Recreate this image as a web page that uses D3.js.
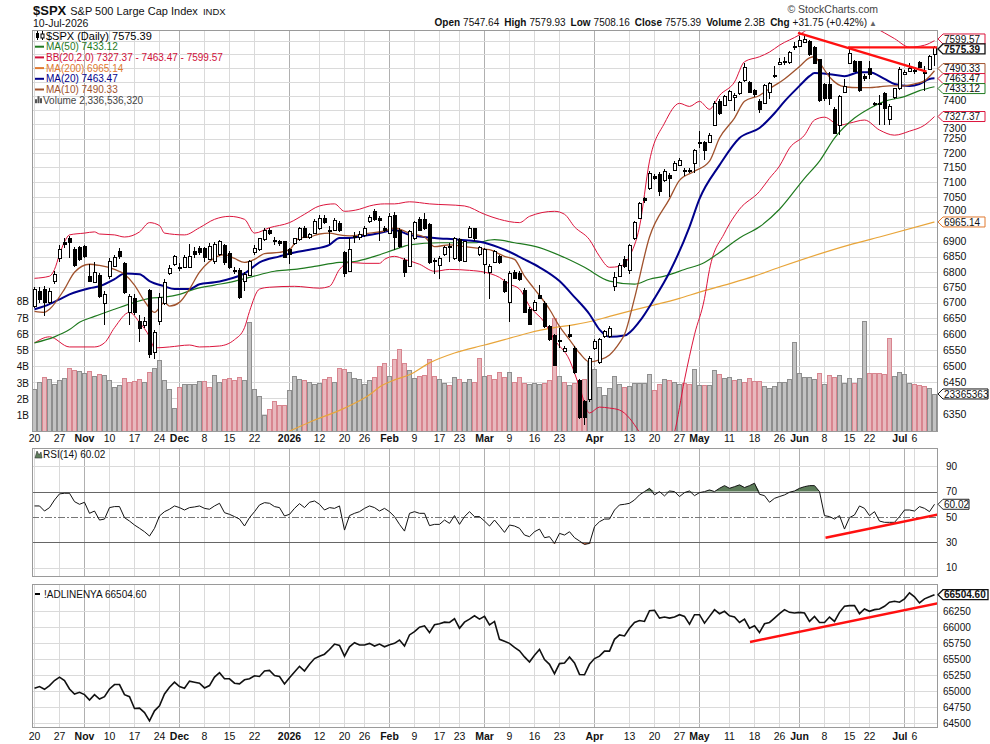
<!DOCTYPE html>
<html><head><meta charset="utf-8">
<script src="https://cdn.jsdelivr.net/npm/d3@7"></script>
<style>
body{margin:0;background:#fff;}
svg text{font-family:"Liberation Sans",Arial,sans-serif;fill:#111;}
</style></head><body>
<svg id="c" width="990" height="744"></svg>
<script>
// ---------------- DATA ----------------
const open = [6688,6737,6744,6701,6770,6844,6896,6909,6873,6880, 6883,6786,6766,6789,6698,6786,6818,6867,6828,6669,
 6714,6640,6627,6741,6540,6640,6698,6796,6825,6815, 6815,6815,6867,6877,6877,6841,6834,6857,6886,6860,
 6802,6805,6770,6789,6864,6873,6906,6935,6903,6899, 6899,6873,6893,6906,6945,6912,6928,6942,6977,6935,
 6938,6960,6864,6802,6912,6912,6919,6967,7001,6977, 6945,6928,6988,6938,6838,6818,6909,6974,6974,6956,
 6834,6821,6857,6883,6844,6906,6834,6915,6942,6857, 6825,6799,6831,6851,6770,6701,6799,6796,6741,6679,
 6675,6724,6698,6624,6595,6578,6546,6598,6555,6453, 6388,6394,6555,6509,6591,6591,6751,6786,6841,6805,
 6909,6977,7043,7078,7120,7127,7106,7123,7141,7158, 7137,7141,7165,7236,7235,7238,7297,7381,7367,7384,
 7395,7409,7454,7447,7419,7381,7374,7412,7473,7513, 7520,7520,7579,7579,7593,7597,7576,7530,7440,7440,
 7353,7297,7412,7516,7523,7523,7471,7499,7370,7372, 7409,7318,7395,7426,7478,7489,7490,7520,7485,7496, 7547.64];
const high = [6751,6751,6754,6747,6802,6889,6912,6919,6883,6886, 6889,6825,6831,6795,6737,6844,6857,6877,6834,6727,
 6727,6662,6653,6744,6614,6731,6776,6821,6857,6828, 6857,6893,6883,6886,6883,6896,6899,6906,6893,6867,
 6815,6812,6799,6838,6889,6912,6945,6945,6916,6906, 6903,6880,6912,6948,6951,6928,6974,6988,6988,6953,
 6977,6967,6867,6912,6932,6935,6951,6988,7008,6984, 6953,6994,6998,6945,6844,6938,6970,6981,6994,6963,
 6844,6851,6886,6896,6916,6912,6903,6953,6945,6886, 6877,6825,6873,6857,6776,6802,6805,6802,6747,6685,
 6708,6757,6705,6630,6601,6620,6562,6630,6562,6460, 6394,6531,6585,6588,6614,6624,6799,6828,6851,6893,
 6970,7033,7050,7137,7127,7134,7144,7130,7172,7182, 7148,7148,7214,7276,7242,7270,7381,7388,7405,7423,
 7409,7454,7520,7454,7426,7388,7444,7451,7506,7537, 7541,7562,7593,7617,7617,7603,7579,7534,7447,7485,
 7360,7402,7461,7572,7530,7527,7478,7527,7380,7402, 7416,7370,7430,7503,7492,7520,7499,7527,7506,7548, 7579.93];
const low = [6682,6698,6656,6695,6760,6834,6880,6847,6815,6835, 6844,6766,6763,6714,6627,6776,6815,6841,6727,6627,
 6662,6575,6620,6525,6521,6630,6692,6789,6818,6802, 6812,6812,6847,6857,6834,6838,6825,6851,6821,6809,
 6792,6711,6737,6786,6857,6870,6903,6922,6889,6886, 6844,6825,6889,6903,6912,6909,6925,6938,6960,6893,
 6935,6932,6783,6799,6896,6906,6916,6963,6970,6903, 6932,6925,6873,6877,6783,6815,6906,6935,6938,6825,
 6792,6776,6851,6834,6838,6834,6831,6912,6903,6851, 6792,6711,6828,6825,6731,6637,6776,6770,6666,6627,
 6672,6711,6620,6578,6498,6555,6543,6588,6475,6335, 6316,6388,6549,6505,6588,6588,6737,6783,6812,6792,
 6906,6974,7029,7074,7106,7054,7102,7050,7137,7155, 7120,7130,7130,7217,7175,7235,7294,7332,7363,7381,
 7346,7405,7451,7409,7398,7339,7370,7391,7464,7510, 7510,7516,7565,7576,7590,7544,7513,7377,7384,7367,
 7266,7262,7409,7513,7485,7416,7454,7461,7365,7297, 7297,7297,7391,7423,7475,7485,7480,7499,7419,7492, 7508.16];
const close = [6744,6711,6701,6737,6792,6873,6889,6896,6821,6841, 6851,6770,6799,6721,6727,6834,6847,6851,6734,6721,
 6669,6617,6640,6534,6604,6718,6766,6812,6851,6812, 6847,6851,6857,6864,6847,6883,6889,6899,6831,6815,
 6805,6718,6792,6834,6877,6909,6938,6928,6901,6893, 6847,6857,6909,6945,6915,6922,6967,6977,6963,6932,
 6970,6938,6796,6873,6916,6922,6945,6981,6974,6970, 6938,6984,6915,6883,6799,6932,6963,6938,6942,6831,
 6838,6844,6880,6880,6909,6838,6899,6945,6909,6880, 6873,6818,6867,6831,6737,6796,6780,6776,6669,6630,
 6701,6714,6624,6582,6502,6575,6555,6591,6478,6341, 6341,6524,6575,6582,6608,6617,6783,6821,6818,6886,
 6963,7026,7036,7130,7113,7068,7137,7113,7165,7175, 7141,7137,7210,7235,7207,7262,7374,7339,7398,7416,
 7402,7447,7503,7412,7405,7353,7436,7444,7471,7520, 7523,7558,7580,7600,7603,7548,7516,7384,7391,7391,
 7269,7398,7433,7551,7489,7419,7461,7478,7372,7370, 7356,7363,7426,7496,7485,7499,7488,7503,7483,7543.64, 7575.39];
// volume in billions of shares
const volume = [2.64,3.09,3.39,3.25,2.94,3.21,3.31,3.93,3.80,3.76, 3.64,3.76,3.45,3.56,3.50,3.19,2.78,2.88,3.31,3.09,
 3.15,3.25,3.09,3.70,3.93,4.42,3.21,2.64,1.49,2.78, 2.94,2.94,2.94,3.15,3.15,2.78,3.50,3.09,3.25,3.29,
 3.21,3.35,3.21,6.77,2.64,2.23,1.04,1.41,1.92,1.66, 1.66,2.58,3.45,3.25,3.21,3.09,2.94,3.00,3.25,3.35,
 3.09,3.96,3.86,3.70,3.29,3.25,2.94,3.21,3.35,4.07, 4.23,3.45,4.48,5.09,4.21,3.80,3.31,3.45,3.52,4.48,
 3.45,3.25,3.00,2.90,3.35,3.25,3.10,3.25,3.10,4.54, 3.45,3.52,3.25,3.66,3.37,3.66,3.05,3.37,3.00,2.95,
 3.00,2.95,2.98,3.19,7.00,3.45,3.09,2.90,3.04,3.19, 3.25,4.37,3.86,2.74,2.27,2.70,3.45,2.94,2.74,2.84,
 2.98,2.98,3.00,3.56,2.60,2.94,3.25,3.21,3.10,2.94, 3.04,2.94,3.86,2.88,2.88,2.88,3.82,3.56,3.31,3.39,
 3.19,3.25,3.08,3.31,3.15,3.15,2.84,2.68,2.84,3.08, 3.08,3.25,5.50,3.62,3.39,3.39,3.25,3.62,2.94,3.49,
 3.41,3.49,2.99,3.31,3.04,3.31,6.80,3.60,3.60,3.60, 3.56,5.80,3.45,3.66,3.56,3.04,2.94,2.90,2.84,2.68, 2.3365];
// 1 = volume bar drawn red (down day)
const volDown = [0,0,1,0,0,0,0,1,1,0, 0,1,0,1,0,0,0,0,1,1, 1,1,0,1,0,0,0,0,0,1, 0,0,0,0,1,1,0,0,1,1,
 1,1,0,0,0,0,0,1,1,1, 1,0,0,0,1,0,0,0,1,1, 0,1,1,0,0,0,0,0,1,1, 1,0,1,1,1,0,0,1,1,1,
 1,0,0,1,0,1,0,0,1,1, 0,1,1,1,1,0,1,1,1,0, 0,0,1,1,1,0,1,0,1,1, 1,0,0,0,0,0,0,0,1,0,
 0,0,0,0,1,1,0,1,0,0, 1,1,0,0,1,0,0,1,0,0, 1,0,1,1,1,1,0,0,0,0, 0,0,0,0,0,0,0,1,0,1,
 1,0,0,0,1,0,0,1,1,1, 1,1,0,0,0,0,1,1,1,0, 0];
// overlays: [bar index, value]
const ma10 = [[0,6672],[2,6669],[3,6679],[6,6744],[8,6799],[11,6825],[13,6821],[16,6808],[18,6792],[20,6757],[22,6705],[24,6669],[26,6701],[27,6689],[29,6701],[31,6744],[33,6799],[35,6834],[38,6857],[40,6844],[42,6831],[44,6841],[46,6860],[49,6864],[51,6873],[53,6912],[55,6915],[57,6925],[59,6928],[61,6922],[63,6919],[65,6922],[67,6928],[70,6935],[72,6945],[75,6928],[78,6915],[80,6883],[83,6889],[86,6883],[89,6877],[91,6873],[94,6851],[96,6841],[98,6786],[100,6744],[103,6679],[105,6624],[107,6582],[109,6540],[111,6512],[113,6518],[115,6534],[117,6572],[118,6598],[120,6714],[123,6915],[127,7043],[129,7106],[132,7137],[135,7172],[137,7252],[140,7322],[142,7381],[145,7402],[147,7426],[150,7461],[153,7506],[155,7537],[156,7541],[157,7520],[159,7468],[162,7433],[165,7430],[167,7430],[169,7433],[171,7436],[174,7436],[176,7443],[178,7454],[180,7490.33]];
const ma20 = [[0,6679],[2,6689],[5,6711],[7,6727],[11,6747],[13,6753],[16,6776],[18,6795],[21,6792],[23,6770],[26,6753],[28,6744],[31,6744],[33,6760],[36,6766],[38,6773],[42,6795],[45,6831],[49,6851],[52,6864],[55,6873],[59,6889],[61,6912],[63,6912],[66,6919],[69,6928],[72,6938],[75,6922],[80,6912],[85,6906],[90,6896],[94,6873],[98,6841],[101,6815],[105,6770],[108,6718],[111,6663],[113,6614],[115,6591],[118,6595],[121,6640],[124,6714],[127,6799],[131,6949],[133,7043],[137,7158],[141,7252],[145,7287],[148,7339],[150,7381],[153,7436],[155,7471],[156,7482],[159,7478],[162,7471],[165,7485],[167,7485],[170,7461],[172,7443],[175,7436],[177,7443],[179,7461],[180,7463.47]];
const ma50 = [[0,6572],[4,6591],[7,6614],[9,6637],[12,6656],[16,6679],[20,6701],[23,6714],[26,6718],[29,6727],[32,6744],[36,6757],[39,6766],[43,6782],[48,6802],[52,6808],[56,6818],[61,6831],[64,6834],[68,6851],[72,6873],[75,6889],[81,6896],[88,6896],[92,6906],[96,6896],[101,6880],[106,6847],[110,6815],[115,6770],[120,6760],[123,6776],[126,6786],[130,6808],[134,6831],[137,6864],[141,6912],[145,6949],[149,7008],[154,7113],[157,7172],[160,7252],[164,7322],[167,7356],[170,7381],[174,7398],[177,7419],[180,7433.12]];
const ma200 = [[50,6292],[55,6326],[62,6369],[67,6410],[69,6434],[72,6456],[75,6472],[79,6509],[84,6540],[90,6565],[94,6582],[99,6604],[104,6620],[108,6630],[112,6643],[115,6656],[122,6685],[129,6714],[133,6734],[138,6757],[144,6786],[149,6815],[163,6889],[169,6915],[180,6965.14]];
const bbUpper = [[0,6779],[3,6786],[4,6808],[5,6857],[6,6899],[7,6922],[10,6928],[12,6932],[13,6925],[16,6922],[18,6915],[21,6932],[23,6963],[25,6953],[26,6928],[30,6922],[33,6946],[36,6974],[39,6984],[42,6974],[44,6928],[47,6946],[51,6963],[54,6991],[57,7019],[60,7026],[62,7001],[65,7008],[67,7019],[70,7026],[72,7026],[75,7033],[79,7026],[86,7019],[90,6991],[93,6974],[97,6963],[99,6984],[104,7001],[106,6991],[108,6949],[111,6906],[113,6851],[115,6815],[117,6818],[119,6851],[121,6949],[123,7172],[126,7304],[129,7374],[131,7363],[133,7381],[135,7353],[137,7402],[140,7450],[142,7523],[145,7541],[147,7558],[149,7583],[153,7621],[155,7645],[159,7663],[163,7670],[167,7656],[170,7628],[172,7607],[175,7576],[178,7583],[180,7599.57]];
const bbLower = [[0,6572],[3,6591],[7,6559],[12,6559],[14,6572],[16,6620],[19,6669],[21,6637],[23,6591],[24,6556],[27,6559],[31,6565],[33,6559],[37,6562],[40,6582],[42,6620],[43,6672],[45,6744],[47,6750],[52,6753],[57,6747],[59,6753],[61,6808],[63,6831],[66,6828],[69,6828],[70,6841],[72,6851],[74,6841],[77,6825],[80,6802],[83,6808],[87,6805],[90,6799],[93,6782],[95,6760],[97,6744],[99,6689],[102,6637],[104,6582],[107,6518],[109,6434],[111,6354],[113,6372],[115,6369],[117,6363],[121,6295],[123,6239],[125,6208],[128,6295],[130,6456],[132,6598],[134,6714],[135,6808],[138,6928],[141,7008],[145,7068],[147,7113],[149,7155],[151,7217],[154,7262],[156,7315],[158,7325],[161,7297],[163,7304],[166,7315],[169,7280],[172,7262],[175,7276],[178,7297],[180,7327.37]];
const rsi = [58.7,58.7,54.7,57.4,63.4,68.2,68.7,68.7,62.1,60,61.6, 52.9,54.7,47.6,48.4,57.4,58.2,58.2,49.5,46.8,43.7,41.1, 38.4,
 35,41.1,50.8,54.2,56.1,58.7,57.4,55.5,57.4,57.9,58.7, 56.8,56.1,58.7,60.8,53.4,52.1,50.3,48.4,42.9,49.5,54.2,
 59.5,61.3,60.8,58.2,57.4,50.8,52.1,56.8,60.5,57.4, 61.6,62.6,60,55.5,57.4,56.8,58.7,39.7,51.1,52.9,54.2,56.8,58.7,
 57.4,54.7,56.8,54.2,50.3,44.2,38.9,52.9,54.2,52.9,52.9, 43.2,44.2,44.2,47.6,45,51.1,44.2,50.3,54.2,50.3,50.3,
 46.8,42.9,47.6,42.9,37.9,43.7,42.9,41.1,35.8,34.5,38.4,40.5, 33.7,34.5,29.2,37.1,35.8,38.4,33.7,31.1,28.4,29.2,42.4,
 46.3,48.4,48.4,55.5,59.5,60,60.8,63.4,67.4,70,72.6, 67.4,70,66.6,70.5,70,66.1,69.2,70.5,66.8,69.2,70,71.3,
 70,72.6,74.7,72.6,73.9,75.3,73.2,74.7,76.6,67.9,66.8, 61.6,64.7,66.1,67.4,69.5,70.5,72.6,73.9,74.7,74.7,70,
 51.1,50.3,48.4,51.1,40.5,49.5,51.6,58.7,56.8,51.1,54.2, 46.8,45.8,45.8,45.8,50.3,55.5,55.5,54.7,58.2,56.8,54.2, 60.02];
const adLine = [65043,65069,65027,65085,65164,65217,65164,65032,64953,64980, 64943,64858,64943,64874,64911,65032,65101,65101,64943,64911,
 64727,64732,64663,64532,64690,64769,64953,65059,65138,65069, 65043,65154,65138,65122,65048,65085,65217,65285,65191,65191,
 65122,65111,65175,65191,65238,65227,65312,65322,65243,65227, 65111,65206,65296,65386,65312,65417,65507,65544,65575,65649,
 65733,65712,65544,65691,65754,65718,65718,65744,65702,65733, 65691,65723,65744,65797,65702,65876,65928,65997,66018,65913,
 66034,66050,66076,66071,66129,65981,66076,66123,66176,66123, 66166,66034,66087,65807,65776,65744,65681,65628,65533,65454,
 65559,65649,65491,65417,65270,65428,65438,65533,65438,65259, 65254,65417,65507,65544,65623,65623,65807,65876,65860,65981,
 66071,66102,66087,66255,66261,66139,66155,66139,66155,66192, 66166,66044,66192,66192,66060,66166,66271,66208,66245,66176,
 66155,66071,66123,65981,66018,65913,66050,66071,66139,66208, 66271,66229,66218,66229,66218,66087,66166,66071,66071,66155,
 66087,66229,66324,66334,66334,66208,66282,66245,66271,66282, 66324,66387,66403,66387,66440,66535,66471,66376,66440,66471, 66504.6];
// hand-drawn red trend lines: [fromIndex, fromValue, toIndex, toValue]
const priceTrends = [[152.7,7628,178.4,7487],[162.7,7575,180.5,7575]];
const rsiTrend = [158.2,33.7,180.9,52.1];
const adTrend = [143.1,65766,180.9,66375];
// x-axis tick labels: [bar index, label, isMonth]
const xTicks = [[0,'20'],[5,'27'],[10,'Nov',1],[15,'10'],[20,'17'],[25,'24'],[29,'Dec',1],[34,'8'],[39,'15'],[44,'22'],
 [51,'2026',1],[57,'12'],[62,'20'],[66,'26'],[71,'Feb',1],[76,'9'],[81,'17'],[85,'23'],[90,'Mar',1],[95,'9'],[100,'16'],[105,'23'],
 [112,'Apr',1],[119,'13'],[124,'20'],[129,'27'],[133,'May',1],[139,'11'],[144,'18'],[149,'26'],[153,'Jun',1],[158,'8'],[163,'15'],[167,'22'],[174,'Jul',1],[176,'6']];
const priceTicks = d3.range(6350, 7601, 50);
const volTicks = [1,2,3,4,5,6,7,8];
const rsiTicks = [10,30,50,70,90];
const adTicks = d3.range(64500, 66251, 250);
// last-value tags of the price panel
const priceTags = [
  {v:7599.57, t:'7599.57', c:'bb'}, {v:7575.39, t:'7575.39', c:'close', bold:1},
  {v:7490.33, t:'7490.33', c:'ma10'}, {v:7463.47, t:'7463.47', c:'bb'}, {v:7433.12, t:'7433.12', c:'ma50'},
  {v:7327.37, t:'7327.37', c:'bb'}, {v:6965.14, t:'6965.14', c:'ma200t'}
];

// ---------------- LAYOUT ----------------
const L=32, R=938, pTop=30, pBot=432, rTop=448, rBot=577, aTop=584, aBot=728;
const N = close.length;
const svg = d3.select('#c');
svg.append('rect').attr('width',990).attr('height',744).attr('fill','#fff');
const x = d3.scaleBand().domain(d3.range(N)).range([L, L+5*N]);
const xc = i => x(i) + x.bandwidth()/2;
const xl = d3.scaleLinear().domain([0, N-1]).range([xc(0), xc(N-1)]);
const y = d3.scaleLog().domain([6296.2, 7638.6]).range([pBot, pTop]);
const yv = d3.scaleLinear().domain([0, 24.7]).range([pBot, pTop]);
const yr = d3.scaleLinear().domain([0, 100]).range([580.5, 453.5]);
const ya = d3.scaleLinear().domain([64500, 66750]).range([723, 579]);

const defs = svg.append('defs');
function clip(id,y0,y1){defs.append('clipPath').attr('id',id).append('rect').attr('x',L).attr('y',y0).attr('width',R-L).attr('height',y1-y0);}
clip('cp',pTop,pBot); clip('cr',rTop,rBot); clip('ca',aTop,aBot);

const C = {ma50:'#1f7a1f', bb:'#dc143c', ma200:'#e8a53a', ma200t:'#e07a30', ma20:'#00008b', ma10:'#a0522d', close:'#111', grid:'#dadada', mgrid:'#b0b0b0'};

// ---------- gridlines ----------
const grid = svg.append('g').attr('shape-rendering','crispEdges');
[[pTop,pBot],[rTop,rBot],[aTop,aBot]].forEach(([t,b])=>{
  xTicks.forEach(d=>{
    grid.append('line').attr('x1',Math.floor(xc(d[0]))+.5).attr('x2',Math.floor(xc(d[0]))+.5).attr('y1',t).attr('y2',b)
      .attr('stroke', d[2]? C.mgrid : C.grid);
  });
});
priceTicks.forEach(v=>{const yy=Math.round(y(v))+.5; grid.append('line').attr('x1',L).attr('x2',R).attr('y1',yy).attr('y2',yy).attr('stroke',C.grid);});
adTicks.forEach(v=>{const yy=Math.round(ya(v))+.5; grid.append('line').attr('x1',L).attr('x2',R).attr('y1',yy).attr('y2',yy).attr('stroke',C.grid);});
[10,90].forEach(v=>{const yy=Math.round(yr(v))+.5; grid.append('line').attr('x1',L).attr('x2',R).attr('y1',yy).attr('y2',yy).attr('stroke',C.grid);});

// ---------- volume ----------
const gv = svg.append('g').attr('clip-path','url(#cp)').attr('shape-rendering','crispEdges');
volume.forEach((v,i)=>{
  gv.append('rect').attr('x',x(i)+.5).attr('width',4).attr('y',Math.round(yv(v))+.5).attr('height',pBot-Math.round(yv(v))-.5)
    .attr('fill', volDown[i]? '#e8b8bd':'#c2c2c2').attr('stroke', volDown[i]? '#d8858f':'#8e8e8e').attr('stroke-width',1);
});

// ---------- overlays ----------
const gl = svg.append('g').attr('clip-path','url(#cp)').attr('fill','none');
const line = d3.line().x(d=>xc(d[0])).y(d=>y(d[1])).curve(d3.curveMonotoneX);
gl.append('path').attr('d',line(ma200)).attr('stroke',C.ma200).attr('stroke-width',1.2);
gl.append('path').attr('d',line(bbUpper)).attr('stroke',C.bb).attr('stroke-width',1);
gl.append('path').attr('d',line(bbLower)).attr('stroke',C.bb).attr('stroke-width',1);
gl.append('path').attr('d',line(ma50)).attr('stroke',C.ma50).attr('stroke-width',1.2);
gl.append('path').attr('d',line(ma20)).attr('stroke',C.ma20).attr('stroke-width',2);
gl.append('path').attr('d',line(ma10)).attr('stroke',C.ma10).attr('stroke-width',1.3);

// ---------- candles ----------
const gc = svg.append('g').attr('clip-path','url(#cp)').attr('shape-rendering','crispEdges');
close.forEach((c,i)=>{
  const o=open[i], cx=xc(i);
  gc.append('line').attr('x1',cx).attr('x2',cx).attr('y1',y(high[i])).attr('y2',y(low[i])).attr('stroke','#000');
  const top=y(Math.max(o,c)), bot=y(Math.min(o,c));
  gc.append('rect').attr('x',cx-1.5).attr('width',3).attr('y',top).attr('height',Math.max(1,bot-top))
    .attr('fill', c>=o? '#fff':'#000').attr('stroke','#000');
});

// ---------- trend lines ----------
const gt = svg.append('g').attr('clip-path','url(#cp)');
priceTrends.forEach(t=>gt.append('line').attr('x1',xl(t[0])).attr('y1',y(t[1])).attr('x2',xl(t[2])).attr('y2',y(t[3])).attr('stroke','#ff1010').attr('stroke-width',2.4));

// ---------- RSI ----------
const gr = svg.append('g').attr('clip-path','url(#cr)');
gr.append('path').attr('d',d3.area().x((d,i)=>xc(i)).y0(yr(70)).y1(d=>yr(Math.max(d,70)))(rsi)).attr('fill','#5d7d5a');
gr.append('path').attr('d',d3.area().x((d,i)=>xc(i)).y0(yr(30)).y1(d=>yr(Math.min(d,30)))(rsi)).attr('fill','#c0603a');
[30,70].forEach(v=>gr.append('line').attr('x1',L).attr('x2',R).attr('y1',Math.round(yr(v))+.5).attr('y2',Math.round(yr(v))+.5).attr('stroke','#666').attr('stroke-width',1.2));
gr.append('line').attr('x1',L).attr('x2',R).attr('y1',Math.round(yr(50))+.5).attr('y2',Math.round(yr(50))+.5).attr('stroke','#777').attr('stroke-dasharray','7,2,2,2');
gr.append('path').attr('d',d3.line().x((d,i)=>xc(i)).y(d=>yr(d))(rsi)).attr('fill','none').attr('stroke','#111').attr('stroke-width',1);
gr.append('line').attr('x1',xl(rsiTrend[0])).attr('y1',yr(rsiTrend[1])).attr('x2',xl(rsiTrend[2])).attr('y2',yr(rsiTrend[3])).attr('stroke','#ff1010').attr('stroke-width',2.4);

// ---------- AD line ----------
const ga = svg.append('g').attr('clip-path','url(#ca)');
ga.append('path').attr('d',d3.line().x((d,i)=>xc(i)).y(d=>ya(d))(adLine)).attr('fill','none').attr('stroke','#111').attr('stroke-width',1.6);
ga.append('line').attr('x1',xl(adTrend[0])).attr('y1',ya(adTrend[1])).attr('x2',xl(adTrend[2])).attr('y2',ya(adTrend[3])).attr('stroke','#ff1010').attr('stroke-width',2.4);

// ---------- frames ----------
[[pTop,pBot],[rTop,rBot],[aTop,aBot]].forEach(([t,b])=>{
  svg.append('rect').attr('x',L+.5).attr('y',t+.5).attr('width',R-L-1).attr('height',b-t-1).attr('fill','none').attr('stroke','#9a9a9a').attr('shape-rendering','crispEdges');
});

// ---------- tag placement (spread apart so they do not collide) ----------
const GAP = 10;
const tagList = priceTags.map(d=>({...d, y:y(d.v)}));
tagList.push({v:volume[N-1], t:'23365363', c:'close', y:yv(volume[N-1]), w:50});
tagList.sort((a,b)=>a.y-b.y);
for(let it=0; it<40; it++){
  for(let k=1;k<tagList.length;k++){
    const a=tagList[k-1], b=tagList[k], d=b.y-a.y;
    if(d<GAP){ const s=(GAP-d)/2; a.y-=s; b.y+=s; }
  }
}

// ---------- axes labels ----------
const ax = svg.append('g').style('font-size','10.5px');
priceTicks.forEach(v=>{
  let yy=y(v);
  let near=null, nd=1e9;
  tagList.forEach(t=>{ if(Math.abs(t.y-yy)<Math.abs(nd)){ nd=yy-t.y; near=t; } });
  if(Math.abs(nd)<7.4) return; // covered by a value tag
  if(Math.abs(nd)<11.5) yy = near.y + Math.sign(nd)*11.5; // nudge clear of the tag
  ax.append('text').attr('x',943).attr('y',yy).attr('dy','0.36em').text(v);
});
volTicks.forEach(v=>ax.append('text').attr('x',29).attr('y',yv(v)).attr('dy','0.36em').attr('text-anchor','end').style('font-size','10px').text(v+'B'));
rsiTicks.forEach(v=>ax.append('text').attr('x',946).attr('y',yr(v)).attr('dy','0.36em').style('font-size','10px').text(v));
adTicks.forEach(v=>ax.append('text').attr('x',943).attr('y',ya(v)).attr('dy','0.36em').style('font-size','10px').text(v));
[442, 740].forEach(yy=>{
  xTicks.forEach((d,k)=>{
    const nxt = xTicks[k+1];
    const crowded = d[2] && nxt && (nxt[0]-d[0])<=2;
    ax.append('text').attr('x', crowded? xc(d[0])+3 : xc(d[0])).attr('y',yy)
      .attr('text-anchor', crowded? 'end':'middle').style('font-weight', d[2]?'bold':'normal').style('font-size','10.5px').text(d[1]);
  });
});

// ---------- value tags ----------
function tag(yy,txt,col,w,bold){
  const g=svg.append('g'); const h=10;
  g.append('path').attr('d',`M${R},${yy}L${R+5},${yy-h/2}H${R+w}V${yy+h/2}H${R+5}Z`).attr('fill','#fff').attr('stroke',col).attr('stroke-width',bold?1.3:1);
  g.append('text').attr('x',R+6).attr('y',yy).attr('dy','0.36em').style('font-size','10px').style('font-weight',bold?'bold':'normal').text(txt);
}
tagList.filter(t=>!t.bold).forEach(t=>tag(t.y, t.t, C[t.c], t.w||47, false));
tagList.filter(t=>t.bold).forEach(t=>tag(t.y, t.t, C[t.c], 47, true));
tag(yr(rsi[N-1]), '60.02', '#222', 31);
tag(ya(adLine[N-1]), '66504.60', '#111', 50, true);

// ---------- header ----------
const t1 = svg.append('text').attr('x',33).attr('y',15);
t1.append('tspan').style('font-weight','bold').style('font-size','13px').text('$SPX');
t1.append('tspan').attr('dx',4).style('font-size','11px').text('S&P 500 Large Cap Index');
t1.append('tspan').attr('dx',5).style('font-size','9.5px').text('INDX');
svg.append('text').attr('x',33).attr('y',26.5).style('font-size','10.5px').text('10-Jul-2026');
svg.append('text').attr('x',878).attr('y',13).attr('text-anchor','end').style('font-size','10.5px').style('fill','#444').text('© StockCharts.com');
const hd = svg.append('text').attr('x',877).attr('y',26).attr('text-anchor','end').style('font-size','10px');
[['Open',1],['7547.64',0],['High',1],['7579.93',0],['Low',1],['7508.16',0],['Close',1],['7575.39',0],['Volume',1],['2.3B',0],['Chg',1],['+31.75 (+0.42%)',0]].forEach((d,k)=>{
  hd.append('tspan').attr('dx', k===0?0:(d[1]?5:3)).style('font-weight',d[1]?'bold':'normal').text(d[0]);
});
hd.append('tspan').attr('dx',2).style('font-size','8px').style('fill','#666').text('▲');

// ---------- legends ----------
const lg = svg.append('g').style('font-size','10px');
const legs = [
  ['$SPX (Daily) 7575.39','#000','candle'],
  ['MA(50) 7433.12',C.ma50,'line'],
  ['BB(20,2.0) 7327.37 - 7463.47 - 7599.57','#d0103a','line'],
  ['MA(200) 6965.14',C.ma200t,'line'],
  ['MA(20) 7463.47',C.ma20,'line'],
  ['MA(10) 7490.33',C.ma10,'line'],
  ['Volume 2,336,536,320','#444','vol']
];
legs.forEach((d,k)=>{
  const yy = 36 + k*10.7;
  if(d[2]==='line') lg.append('line').attr('x1',35).attr('x2',44).attr('y1',yy).attr('y2',yy).attr('stroke',d[1]).attr('stroke-width',2);
  if(d[2]==='candle'){
    lg.append('line').attr('x1',37.5).attr('x2',37.5).attr('y1',yy-5).attr('y2',yy+4).attr('stroke','#000');
    lg.append('rect').attr('x',36).attr('y',yy-3).attr('width',3).attr('height',5).attr('fill','#000');
    lg.append('line').attr('x1',42.5).attr('x2',42.5).attr('y1',yy-5).attr('y2',yy+4).attr('stroke','#000');
    lg.append('rect').attr('x',41).attr('y',yy-2).attr('width',3).attr('height',4).attr('fill','#fff').attr('stroke','#000');
  }
  if(d[2]==='vol'){
    [[35,4],[37.5,7],[40,5]].forEach(b=>lg.append('rect').attr('x',b[0]).attr('y',yy+3-b[1]).attr('width',2).attr('height',b[1]).attr('fill','#555'));
  }
  lg.append('text').attr('x', d[2]==='vol'?43:46).attr('y',yy).attr('dy','0.36em').style('fill',d[1]).style('font-size', k===0?'11px':'10px').text(d[0]);
});
// RSI legend
lg.append('path').attr('d','M35,458 L37,451 L39,455 L41,452 L42,458 Z').attr('fill','#5d7d5a').attr('stroke','#333').attr('stroke-width',.6);
lg.append('text').attr('x',43).attr('y',454.5).attr('dy','0.36em').text('RSI(14) 60.02');
// AD legend
lg.append('line').attr('x1',35).attr('x2',40).attr('y1',594).attr('y2',594).attr('stroke','#000').attr('stroke-width',2);
lg.append('text').attr('x',44).attr('y',594).attr('dy','0.36em').text('!ADLINENYA 66504.60');
</script>
</body></html>
